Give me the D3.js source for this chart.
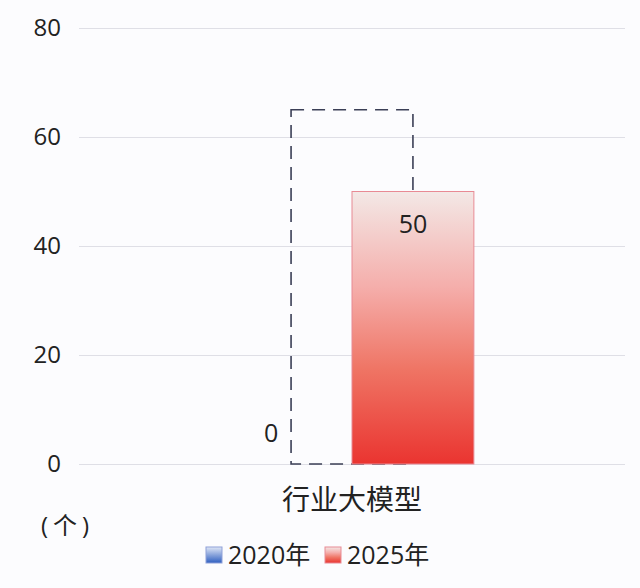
<!DOCTYPE html>
<html>
<head>
<meta charset="utf-8">
<script src="https://cdn.jsdelivr.net/npm/d3@7"></script>
<style>
    body { margin: 0; background: #fcfcfe; }
    text { font-family: "Open Sans", "Noto Sans CJK SC", sans-serif; fill: #222; }
</style>
</head>
<body>
<div id="chart"></div>
<script>

// chart data
let categories = ["行业大模型"];
let years = ["2020年", "2025年"];
let values2020 = [0];
let values2025 = [50];
let targetValues = [65];      // dashed box height
let yTicks = [0, 20, 40, 60, 80];
let unitLabel = "(个)";

let width = 640, height = 588;

let svg = d3.select("#chart").append("svg")
    .attr("width", width)
    .attr("height", height);

let defs = svg.append("defs");

// bar gradients
let redGrad = defs.append("linearGradient")
    .attr("id", "redGrad").attr("x1", 0).attr("y1", 0).attr("x2", 0).attr("y2", 1);
redGrad.append("stop").attr("offset", "0%").attr("stop-color", "#f3e8e6");
redGrad.append("stop").attr("offset", "35%").attr("stop-color", "#f5aeab");
redGrad.append("stop").attr("offset", "65%").attr("stop-color", "#ef7565");
redGrad.append("stop").attr("offset", "100%").attr("stop-color", "#ea3430");

let blueGrad = defs.append("linearGradient")
    .attr("id", "blueGrad").attr("x1", 0).attr("y1", 0).attr("x2", 0).attr("y2", 1);
blueGrad.append("stop").attr("offset", "0%").attr("stop-color", "#dfe6f6");
blueGrad.append("stop").attr("offset", "100%").attr("stop-color", "#2f5fc0");

let colors = {"2020年": "url(#blueGrad)", "2025年": "url(#redGrad)"};
let borders = {"2020年": "#8ea0d8", "2025年": "#e88a94"};

// scales
let y = d3.scaleLinear()
    .domain([0, 80])
    .range([464, 28]);

let x0 = d3.scaleBand()
    .domain(categories)
    .range([79, 625]);

let x1 = d3.scaleBand()
    .domain(years)
    .range([0, x0.bandwidth()])
    .paddingInner(0)
    .paddingOuter(1.24);

// grid lines + y labels
let yAxis = d3.axisLeft(y)
    .tickValues(yTicks)
    .tickSize(-546)
    .tickPadding(18);

let yG = svg.append("g")
    .attr("transform", "translate(79,0)")
    .call(yAxis);
yG.select(".domain").remove();
yG.selectAll(".tick line").attr("stroke", "#dfdfe6").attr("stroke-width", 1.2);
yG.selectAll(".tick text")
    .style("font-family", "'Open Sans', sans-serif")
    .style("font-size", "24px")
    .attr("fill", "#222");

// rows per series
let rows = categories.map((c, i) => ({
    cat: c,
    vals: [
        {year: years[0], value: values2020[i]},
        {year: years[1], value: values2025[i]}
    ],
    target: targetValues[i]
}));

let groups = svg.selectAll(".group")
    .data(rows)
    .enter().append("g")
    .attr("class", "group")
    .attr("transform", d => "translate(" + x0(d.cat) + ",0)");

// dashed target box from 2020 bar centre to 2025 bar centre
groups.append("rect")
    .attr("x", x1(years[0]) + x1.bandwidth() / 2)
    .attr("y", d => y(d.target))
    .attr("width", x1.bandwidth())
    .attr("height", d => y(0) - y(d.target))
    .attr("fill", "none")
    .attr("stroke", "#3b3f56")
    .attr("stroke-width", 1.6)
    .attr("stroke-dasharray", "13,8");

// bars
groups.selectAll(".bar")
    .data(d => d.vals)
    .enter().append("rect")
    .attr("class", "bar")
    .attr("x", d => x1(d.year))
    .attr("y", d => y(d.value))
    .attr("width", x1.bandwidth())
    .attr("height", d => y(0) - y(d.value))
    .attr("fill", d => colors[d.year])
    .attr("stroke", d => d.value > 0 ? borders[d.year] : "none")
    .attr("stroke-width", 1);

// value labels
groups.selectAll(".val")
    .data(d => d.vals)
    .enter().append("text")
    .attr("class", "val")
    .attr("x", d => x1(d.year) + x1.bandwidth() / 2 - (d.value === 0 ? 20 : 0))
    .attr("y", d => d.value === 0 ? y(0) - 31 : y(d.value) + 33)
    .attr("dy", "0.35em")
    .attr("text-anchor", "middle")
    .style("font-size", "25px")
    .text(d => d.value);

// category label
groups.append("text")
    .attr("x", x0.bandwidth() / 2)
    .attr("y", 500)
    .attr("dy", "0.35em")
    .attr("text-anchor", "middle")
    .style("font-size", "28px")
    .text(d => d.cat);

// unit
svg.append("text")
    .attr("x", 41)
    .attr("y", 526)
    .attr("dy", "0.35em")
    .style("font-size", "24px")
    .style("letter-spacing", "5px")
    .text(unitLabel);

// legend
let legendX = [206, 325];
let legend = svg.selectAll(".legend")
    .data(years)
    .enter().append("g")
    .attr("class", "legend")
    .attr("transform", (d, i) => "translate(" + legendX[i] + ",555)");

legend.append("rect")
    .attr("x", 0).attr("y", -8)
    .attr("width", 16).attr("height", 16)
    .attr("fill", d => colors[d])
    .attr("stroke", d => borders[d])
    .attr("stroke-width", 1);

legend.append("text")
    .attr("x", 22)
    .attr("dy", "0.35em")
    .style("font-size", "25px")
    .text(d => d);

</script>
</body>
</html>
